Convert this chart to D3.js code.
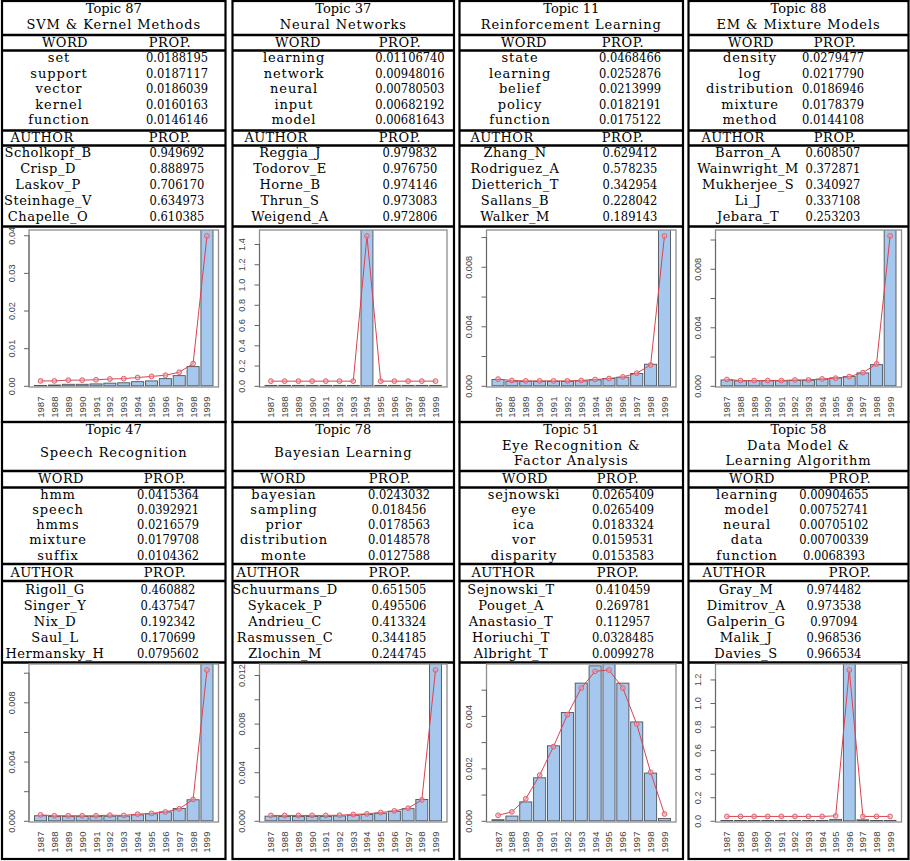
<!DOCTYPE html>
<html><head><meta charset="utf-8">
<script src="https://cdn.jsdelivr.net/npm/d3@7"></script>
<style>body{margin:0;background:#fff} svg{display:block}</style>
</head><body><svg id="c" width="910" height="861"></svg>
<script>
// ---------------- DATA ----------------
const years = ["1987","1988","1989","1990","1991","1992","1993","1994","1995","1996","1997","1998","1999"];
const topicIds = ["Topic 87","Topic 37","Topic 11","Topic 88","Topic 47","Topic 78","Topic 51","Topic 58"];
const topicTitles = [
  ["SVM & Kernel Methods"], ["Neural Networks"], ["Reinforcement Learning"], ["EM & Mixture Models"],
  ["Speech Recognition"], ["Bayesian Learning"], ["Eye Recognition &", "Factor Analysis"], ["Data Model &", "Learning Algorithm"]
];
const words = [
  ["set","support","vector","kernel","function"],
  ["learning","network","neural","input","model"],
  ["state","learning","belief","policy","function"],
  ["density","log","distribution","mixture","method"],
  ["hmm","speech","hmms","mixture","suffix"],
  ["bayesian","sampling","prior","distribution","monte"],
  ["sejnowski","eye","ica","vor","disparity"],
  ["learning","model","neural","data","function"]
];
const wordProps = [
  ["0.0188195","0.0187117","0.0186039","0.0160163","0.0146146"],
  ["0.01106740","0.00948016","0.00780503","0.00682192","0.00681643"],
  ["0.0468466","0.0252876","0.0213999","0.0182191","0.0175122"],
  ["0.0279477","0.0217790","0.0186946","0.0178379","0.0144108"],
  ["0.0415364","0.0392921","0.0216579","0.0179708","0.0104362"],
  ["0.0243032","0.018456","0.0178563","0.0148578","0.0127588"],
  ["0.0265409","0.0265409","0.0183324","0.0159531","0.0153583"],
  ["0.00904655","0.00752741","0.00705102","0.00700339","0.0068393"]
];
const authors = [
  ["Scholkopf_B","Crisp_D","Laskov_P","Steinhage_V","Chapelle_O"],
  ["Reggia_J","Todorov_E","Horne_B","Thrun_S","Weigend_A"],
  ["Zhang_N","Rodriguez_A","Dietterich_T","Sallans_B","Walker_M"],
  ["Barron_A","Wainwright_M","Mukherjee_S","Li_J","Jebara_T"],
  ["Rigoll_G","Singer_Y","Nix_D","Saul_L","Hermansky_H"],
  ["Schuurmans_D","Sykacek_P","Andrieu_C","Rasmussen_C","Zlochin_M"],
  ["Sejnowski_T","Pouget_A","Anastasio_T","Horiuchi_T","Albright_T"],
  ["Gray_M","Dimitrov_A","Galperin_G","Malik_J","Davies_S"]
];
const authorProps = [
  ["0.949692","0.888975","0.706170","0.634973","0.610385"],
  ["0.979832","0.976750","0.974146","0.973083","0.972806"],
  ["0.629412","0.578235","0.342954","0.228042","0.189143"],
  ["0.608507","0.372871","0.340927","0.337108","0.253203"],
  ["0.460882","0.437547","0.192342","0.170699","0.0795602"],
  ["0.651505","0.495506","0.413324","0.344185","0.244745"],
  ["0.410459","0.269781","0.112957","0.0328485","0.0099278"],
  ["0.974482","0.973538","0.97094","0.968536","0.966534"]
];
const barValues = [
  [0.0001,0.0002,0.0004,0.0004,0.0005,0.0007,0.0008,0.0011,0.0013,0.0019,0.0027,0.0051,0.046],
  [0.004,0.004,0.004,0.004,0.004,0.004,0.004,1.6,0.004,0.004,0.004,0.004,0.004],
  [0.00042,0.00031,0.0003,0.0003,0.0003,0.0003,0.00033,0.0004,0.00049,0.00058,0.00083,0.00145,0.0115],
  [0.0004,0.00034,0.00034,0.00034,0.00034,0.00036,0.00038,0.00045,0.00054,0.00063,0.00088,0.00145,0.0118],
  [0.00034,0.0003,0.0003,0.0003,0.0003,0.00031,0.00032,0.0004,0.00047,0.0006,0.00083,0.00142,0.0118],
  [0.00038,0.00036,0.00036,0.00036,0.00036,0.0004,0.00046,0.00052,0.00063,0.00079,0.001,0.00175,0.0145],
  [0.00004,0.00018,0.00072,0.00164,0.00286,0.00413,0.00525,0.00591,0.0062,0.00525,0.00377,0.00182,0.00009],
  [0.003,0.003,0.003,0.003,0.003,0.003,0.003,0.003,0.012,1.5,0.008,0.003,0.003]
];
const lineValues = [
  [0.0013,0.0013,0.0015,0.0015,0.0016,0.0018,0.0019,0.0022,0.0025,0.0028,0.0036,0.0059,0.0398],
  [0.046,0.046,0.046,0.046,0.046,0.046,0.046,1.479,0.046,0.046,0.046,0.046,0.046],
  [0.00045,0.00036,0.00033,0.00033,0.00033,0.00033,0.00036,0.00042,0.00049,0.0006,0.00085,0.0014,0.01007],
  [0.00043,0.00036,0.00036,0.00036,0.00036,0.0004,0.0004,0.00047,0.00052,0.00063,0.0009,0.00149,0.01024],
  [0.0004,0.00034,0.00034,0.00034,0.00034,0.00038,0.00036,0.00045,0.0005,0.0006,0.00081,0.00144,0.01018],
  [0.00044,0.00044,0.00044,0.00044,0.00044,0.00046,0.00052,0.00057,0.00068,0.00082,0.00104,0.00172,0.01241],
  [0.00021,0.00034,0.00084,0.00174,0.00283,0.00405,0.00506,0.0057,0.00575,0.00506,0.00369,0.00185,0.00026],
  [0.037,0.037,0.037,0.037,0.037,0.037,0.037,0.037,0.042,1.28,0.037,0.037,0.037]
];
const yTicks = [
  [0,0.01,0.02,0.03,0.04],
  [0,0.2,0.4,0.6,0.8,1.0,1.2,1.4],
  [0,0.002,0.004,0.006,0.008,0.010],
  [0,0.002,0.004,0.006,0.008,0.010],
  [0,0.002,0.004,0.006,0.008,0.010],
  [0,0.002,0.004,0.006,0.008,0.010,0.012],
  [0,0.001,0.002,0.003,0.004,0.005],
  [0,0.2,0.4,0.6,0.8,1.0,1.2]
];
const yTickLabels = [
  ["0.00","0.01","0.02","0.03","0.04"],
  ["0.0","0.2","0.4","0.6","0.8","1.0","1.2","1.4"],
  ["0.000","","0.004","","0.008",""],
  ["0.000","","0.004","","0.008",""],
  ["0.000","","0.004","","0.008",""],
  ["0.000","","0.004","","0.008","","0.012"],
  ["0.000","","0.002","","0.004",""],
  ["0.0","0.2","0.4","0.6","0.8","1.0","1.2"]
];
const headWord = "WORD", headAuthor = "AUTHOR", headProp = "PROP.";

// ---------------- LAYOUT ----------------
const PL = [2, 232.5, 459.5, 688.5], PR = [225.5, 454, 683, 908.5];
const ROWS = [
  {top:1, bot:422, titleY:{2:[9,25]}, h:[35,50.5,130.5,145.5,226.5], wordHdr:42.5, authHdr:137.5,
   w0:58, wStep:15.4, a0:153, aStep:16, cTop:230, cBot:387},
  {top:422, bot:859, titleY:{2:[430,453],3:[430,445.5,461]}, h:[471,487.5,564,581,662.5], wordHdr:479, authHdr:572.5,
   w0:494.5, wStep:15.2, a0:590, aStep:15.8, cTop:664, cBot:822}
];
const colWordX   = [59, 294, 520, 750, 58, 284, 524, 747];
const colAuthorX = [48, 290, 515, 748, 55, 285, 511, 746];
const colNumX    = [177, 410, 630, 833, 168, 399, 623, 834];
const hdrWordX   = [65, 298, 524, 751, 61, 283, 525, 752];
const hdrPropX   = [170, 400, 623, 835, 165, 390, 618, 850];
const hdrAuthX   = [42, 276, 502, 733, 42, 268, 503, 734];

const svg = d3.select("#c");
const serif = "'DejaVu Serif', 'Liberation Serif', serif";
const sans = "'Liberation Sans', Arial, sans-serif";
const BASE = 4.3; // center -> baseline offset

function txt(g, x, yc, s, opts={}) {
  const t = g.append("text").attr("x", x).attr("y", yc + BASE)
    .attr("text-anchor","middle").attr("font-family", serif).attr("font-size", 13)
    .attr("fill","#000").text(s);
  if (opts.ls) t.attr("letter-spacing", opts.ls);
  if (opts.num) {
    const w = s.split("").reduce((a,c)=>a+(c==="."?4.1:7.25),0);
    t.attr("textLength", w).attr("lengthAdjust","spacingAndGlyphs");
  }
  return t;
}

topicIds.forEach((tid, i) => {
  const col = i % 4, r = Math.floor(i/4), R = ROWS[r];
  const x0 = PL[col], x1 = PR[col], cx = (x0+x1)/2;
  const g = svg.append("g");

  const lines = [tid].concat(topicTitles[i]);
  const ty = R.titleY[lines.length];
  lines.forEach((s, k) => txt(g, cx, ty[k], s, k===0?{}:{ls:0.9}));

  txt(g, hdrWordX[i], R.wordHdr, headWord, {ls:0.4});
  txt(g, hdrPropX[i], R.wordHdr, headProp, {ls:0.6});
  txt(g, hdrAuthX[i], R.authHdr, headAuthor, {ls:0.4});
  txt(g, hdrPropX[i], R.authHdr, headProp, {ls:0.6});

  words[i].forEach((w, k) => {
    txt(g, colWordX[i], R.w0 + k*R.wStep, w, {ls:0.9});
    txt(g, colNumX[i], R.w0 + k*R.wStep, wordProps[i][k], {num:true});
  });
  authors[i].forEach((a, k) => {
    txt(g, colAuthorX[i], R.a0 + k*R.aStep, a, {ls:0.5});
    txt(g, colNumX[i], R.a0 + k*R.aStep, authorProps[i][k], {num:true});
  });

  R.h.forEach(y => g.append("line").attr("x1",x0).attr("x2",x1).attr("y1",y).attr("y2",y)
    .attr("stroke","#000").attr("stroke-width",2.4));
  g.append("rect").attr("x",x0).attr("y",R.top).attr("width",x1-x0).attr("height",R.bot-R.top)
    .attr("fill","none").attr("stroke","#000").attr("stroke-width",2.2);

  // ---- chart ----
  const bL = x0 + 27, bR = x1 - 7, bT = R.cTop, bB = R.cBot;
  const lmax = d3.max(lineValues[i]);
  const y = d3.scaleLinear().domain([-0.008*lmax, lmax*1.04]).range([bB, bT]);
  const x = d3.scaleBand().domain(years).range([bL+5.5, bR-5.5]).paddingInner(0.13).paddingOuter(0);

  const clipId = "clip"+i;
  g.append("clipPath").attr("id",clipId).append("rect")
    .attr("x",bL).attr("y",bT).attr("width",bR-bL).attr("height",bB-bT);

  g.append("g").attr("clip-path",`url(#${clipId})`).selectAll("rect")
    .data(barValues[i]).join("rect")
    .attr("x",(d,k)=>x(years[k])).attr("width",x.bandwidth())
    .attr("y",d=>y(d)).attr("height",d=>y(0)-y(d))
    .attr("fill","#a7c8ee").attr("stroke","#4d5258").attr("stroke-width",0.9);

  g.append("rect").attr("x",bL).attr("y",bT).attr("width",bR-bL).attr("height",bB-bT)
    .attr("fill","none").attr("stroke","#8e8e8e").attr("stroke-width",1.3);

  const yAxis = d3.axisLeft(y).tickValues(yTicks[i]).tickSize(5)
    .tickFormat((d,k)=>yTickLabels[i][k]);
  const ya = g.append("g").attr("transform",`translate(${bL},0)`).call(yAxis);
  ya.select(".domain").attr("stroke","#666").attr("d", `M-0,${y(yTicks[i][0])}V${y(yTicks[i][yTicks[i].length-1])}`);
  ya.selectAll(".tick line").attr("stroke","#666");
  ya.selectAll(".tick text").attr("font-family",sans).attr("font-size",9.2).attr("fill","#444")
    .attr("x",null).attr("dy",null).attr("text-anchor","middle").attr("dominant-baseline","central")
    .attr("transform","translate(-17.5,0) rotate(-90)");

  g.append("g").selectAll("text").data(years).join("text")
    .attr("transform",d=>`translate(${x(d)+x.bandwidth()/2},${bB+9.5}) rotate(-90)`)
    .attr("text-anchor","end").attr("dominant-baseline","central")
    .attr("font-family",sans).attr("font-size",9.6).attr("fill","#444").text(d=>d);

  const pts = lineValues[i].map((v,k)=>[x(years[k])+x.bandwidth()/2, y(v)]);
  g.append("path").attr("d", d3.line()(pts)).attr("fill","none").attr("stroke","#d9434f").attr("stroke-width",1);
  g.append("g").selectAll("circle").data(pts).join("circle")
    .attr("cx",d=>d[0]).attr("cy",d=>d[1]).attr("r",2.4)
    .attr("fill","rgba(240,160,170,0.55)").attr("stroke","#e0606c").attr("stroke-width",1);
});
</script></body></html>
